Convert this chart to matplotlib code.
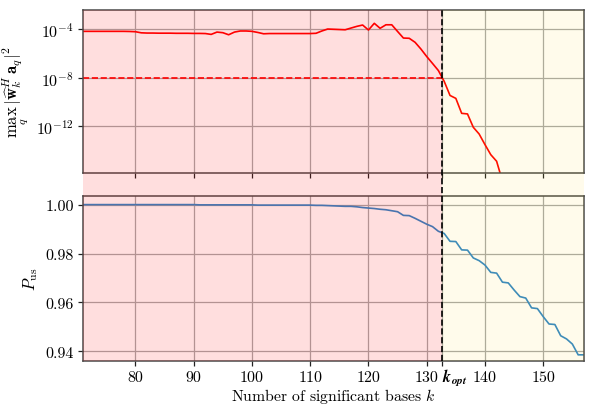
import numpy as np
import matplotlib
matplotlib.use("Agg")
import matplotlib.pyplot as plt

plt.rcParams['font.family'] = 'serif'
plt.rcParams['font.serif'] = ['cmr10']
plt.rcParams['mathtext.fontset'] = 'cm'
plt.rcParams['axes.unicode_minus'] = False
plt.rcParams['axes.formatter.use_mathtext'] = True

# ---- data ----
k = np.arange(71, 158)
k_opt = 132.7
threshold = 1e-8

# log10 of max_q |w_k^H a_q|^2 for k = 71 .. 143
leak_log = [
    -4.19, -4.19, -4.19, -4.19, -4.19, -4.19, -4.19, -4.19, -4.20, -4.22,   # 71-80
    -4.31, -4.33, -4.33, -4.34, -4.34, -4.34, -4.35, -4.35, -4.35, -4.36,   # 81-90
    -4.36, -4.37, -4.44, -4.25, -4.30, -4.47, -4.25, -4.16, -4.16, -4.19,   # 91-100
    -4.28, -4.39, -4.37, -4.37, -4.37, -4.37, -4.37, -4.37, -4.37, -4.37,   # 101-110
    -4.35, -4.16, -4.00, -4.02, -4.04, -4.06, -3.92, -3.78, -3.67, -4.08,   # 111-120
    -3.53, -3.94, -3.65, -3.65, -4.20, -4.74, -4.76, -5.09, -5.64, -6.26,   # 121-130
    -6.83, -7.41, -8.30, -9.46, -9.70, -10.93, -10.98, -12.08, -12.63, -13.50,  # 131-140
    -14.33, -14.87, -16.50,                                                 # 141-143
]
leak = 10.0 ** np.array(leak_log)
k_leak = k[:len(leak)]

p_us = [
    1.0000, 1.0000, 1.0000, 1.0000, 1.0000, 1.0000, 1.0000, 1.0000, 1.0000, 1.0000,  # 71-80
    1.0000, 1.0000, 1.0000, 1.0000, 1.0000, 1.0000, 1.0000, 1.0000, 1.0000, 1.0000,  # 81-90
    0.9999, 0.9999, 0.9999, 0.9999, 0.9999, 0.9999, 0.9999, 0.9999, 0.9999, 0.9999,  # 91-100
    0.9998, 0.9998, 0.9998, 0.9998, 0.9998, 0.9998, 0.9998, 0.9998, 0.9998, 0.9998,  # 101-110
    0.9997, 0.9997, 0.9996, 0.9995, 0.9994, 0.9993, 0.9993, 0.9991, 0.9988, 0.9986,  # 111-120
    0.9984, 0.9981, 0.9979, 0.9975, 0.9971, 0.9956, 0.9955, 0.9944, 0.9932, 0.9920,  # 121-130
    0.9910, 0.9891, 0.9882, 0.9850, 0.9849, 0.9815, 0.9814, 0.9782, 0.9771, 0.9753,  # 131-140
    0.9723, 0.9720, 0.9683, 0.9680, 0.9651, 0.9624, 0.9618, 0.9578, 0.9575, 0.9542,  # 141-150
    0.9512, 0.9510, 0.9464, 0.9451, 0.9430, 0.9386, 0.9386,                          # 151-157
]

xticks = [80, 90, 100, 110, 120, 130, 140, 150]
xticklabels = ['80', '90', '100', '110', '120', '130', '140', '150']
kopt_label = r'$\boldsymbol{k}_{\boldsymbol{opt}}$'
top_yticks = [1e-4, 1e-8, 1e-12]
bot_yticks = [0.94, 0.96, 0.98, 1.00]

# ---- figure ----
W, H = 598, 410
fig = plt.figure(figsize=(W / 100, H / 100), dpi=100)

def rect(x0, y0, x1, y1):
    return [x0 / W, 1 - y1 / H, (x1 - x0) / W, (y1 - y0) / H]

ax1 = fig.add_axes(rect(83, 10.7, 584, 174.3))
ax2 = fig.add_axes(rect(83, 197.3, 584, 361.7))
xlim = (k[0], k[-1])

spine_col = '#4a4a4a'
grid_col = '#a8a8a8'
for ax in (ax1, ax2):
    ax.set_xlim(*xlim)
    ax.grid(True, color=grid_col, linewidth=0.9)
    ax.set_axisbelow(True)
    for s in ax.spines.values():
        s.set_color(spine_col)
        s.set_linewidth(1.1)
    ax.tick_params(labelsize=11.5, color='#222222', length=3.5, width=0.9, pad=3)

# top panel
ax1.set_yscale('log')
ax1.plot(k_leak, leak, color='red', linewidth=1.2)
ax1.hlines(threshold, xlim[0], k_opt, colors='red', linestyles='--', linewidth=1.2)
ax1.set_ylim(10 ** -15.86, 10 ** -2.41)
ax1.set_yticks(top_yticks)
ax1.yaxis.set_minor_locator(matplotlib.ticker.NullLocator())
ax1.set_xticks(xticks + [k_opt])
ax1.set_xticklabels([])
ax1.set_ylabel(r'$\max_q\,|\widehat{\mathbf{w}}_k^H\mathbf{a}_q|^2$', fontsize=12)

# bottom panel
ax2.plot(k, p_us, color='#2f86c8', linewidth=1.2)
ax2.set_ylim(0.9362, 1.0034)
ax2.set_yticks(bot_yticks)
ax2.set_yticklabels([f'{v:.2f}' for v in bot_yticks])
ax2.set_xticks(xticks + [k_opt])
ax2.tick_params(axis='x', pad=10.8)
labels = ax2.set_xticklabels(xticklabels + [kopt_label])
for lab in labels:
    lab.set_verticalalignment('baseline')
labels[-1].set_horizontalalignment('left')
ax2.set_ylabel(r'$P_{\mathrm{us}}$', fontsize=12)
ax2.set_xlabel(r'Number of significant bases $k$', fontsize=11.3)
ax2.xaxis.set_label_coords(0.5, -0.155)

# overlay shading spanning both panels and gap
ov = fig.add_axes(rect(83, 10.7, 584, 361.7), zorder=10)
ov.set_xlim(*xlim)
ov.set_ylim(0, 1)
ov.axis('off')
ov.patch.set_alpha(0)
ov.axvspan(xlim[0], k_opt, color='red', alpha=0.13, linewidth=0)
ov.axvspan(k_opt, xlim[1], color='#ffd700', alpha=0.08, linewidth=0)
ov.axvline(k_opt, color='black', linestyle='--', linewidth=1.2)

fig.savefig('out.png', dpi=100)
